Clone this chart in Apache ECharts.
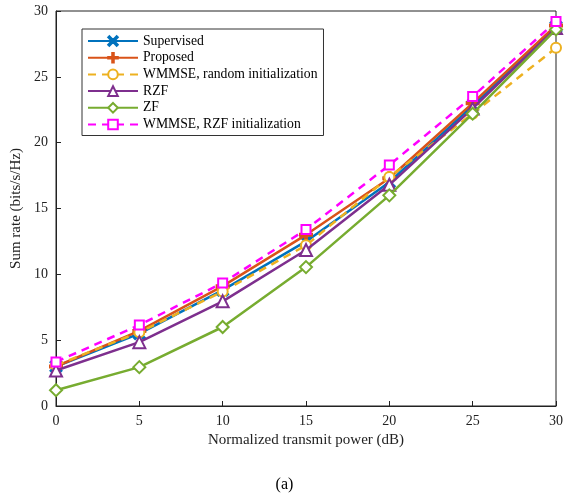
<!DOCTYPE html>
<html><head><meta charset="utf-8">
<script src="https://cdn.jsdelivr.net/npm/echarts@6/dist/echarts.min.js"></script>
<style>html,body{margin:0;padding:0;background:#fff}#c{width:569px;height:499px}</style>
</head><body><div id="c"></div>
<script>
const xValues = [0, 5, 10, 15, 20, 25, 30];
const seriesNames = ['Supervised', 'Proposed', 'WMMSE, random initialization', 'RZF', 'ZF', 'WMMSE, RZF initialization'];
const supervised = [3.0, 5.5, 8.8, 12.5, 17.0, 22.8, 28.8];
const proposed = [3.0, 5.7, 9.1, 13.0, 17.3, 23.0, 28.9];
const wmmseRandom = [3.1, 5.6, 8.7, 12.2, 17.4, 22.2, 27.2];
const rzf = [2.7, 4.85, 7.95, 11.85, 16.8, 22.6, 28.7];
const zf = [1.2, 2.95, 6.0, 10.55, 16.0, 22.2, 28.6];
const wmmseRzf = [3.35, 6.15, 9.35, 13.4, 18.3, 23.5, 29.2];
const yTicks = [0, 5, 10, 15, 20, 25, 30];

const allData = [supervised, proposed, wmmseRandom, rzf, zf, wmmseRzf];
const colors = ['#0072BD', '#D95319', '#EDB120', '#7E2F8E', '#77AC30', '#FF00FF'];
const XSYM = 'path://M0,1.2L1.2,0L5,3.8L8.8,0L10,1.2L6.2,5L10,8.8L8.8,10L5,6.2L1.2,10L0,8.8L3.8,5Z';
const PLUS = 'path://M4.2,0H5.8V4.2H10V5.8H5.8V10H4.2V5.8H0V4.2H4.2Z';
const symbols = [XSYM, PLUS, 'emptyCircle', 'emptyTriangle', 'emptyDiamond', 'emptyRect'];
const symSizes = [11, 12, 10, 12, 12, 9];
const dashed = [false, false, true, false, false, true];
const font = 'Liberation Serif';

const series = allData.map((arr, i) => ({
  name: seriesNames[i],
  type: 'line',
  data: xValues.map((x, j) => [x, arr[j]]),
  symbol: symbols[i],
  symbolSize: symSizes[i],
  showAllSymbol: true,
  color: colors[i],
  lineStyle: { width: 2.5, color: colors[i], type: dashed[i] ? [8, 6] : 'solid' },
  itemStyle: { color: colors[i], borderColor: colors[i], borderWidth: 2 },
  z: 2 + i,
  animation: false
}));

const chart = echarts.init(document.getElementById('c'));
chart.setOption({
  backgroundColor: '#fff',
  animation: false,
  textStyle: { fontFamily: font },
  grid: { left: 56, right: 13, top: 11, bottom: 93, show: true, borderColor: '#222', borderWidth: 1 },
  title: { text: '(a)', left: 'center', top: 472, textStyle: { fontFamily: font, fontSize: 16, fontWeight: 'normal', color: '#000' } },
  legend: {
    orient: 'vertical', left: 82, top: 29,
    data: seriesNames,
    backgroundColor: '#fff', borderColor: '#333', borderWidth: 1,
    padding: [5, 6, 4, 5], itemGap: 2.7, itemWidth: 50, itemHeight: 12,
    textStyle: { fontFamily: font, fontSize: 13.7, color: '#000' }
  },
  xAxis: {
    type: 'value', min: 0, max: 30, interval: 5,
    name: 'Normalized transmit power (dB)', nameLocation: 'middle', nameGap: 27,
    nameTextStyle: { fontFamily: font, fontSize: 15, color: '#222' },
    axisLine: { lineStyle: { color: '#222' } },
    axisTick: { inside: true, length: 5, lineStyle: { color: '#222' } },
    axisLabel: { fontFamily: font, fontSize: 14, color: '#222', margin: 8 },
    splitLine: { show: false }
  },
  yAxis: {
    type: 'value', min: 0, max: 30, interval: 5,
    name: 'Sum rate (bits/s/Hz)', nameLocation: 'middle', nameGap: 29,
    nameTextStyle: { fontFamily: font, fontSize: 15, color: '#222' },
    axisLine: { show: true, lineStyle: { color: '#222' } },
    axisTick: { show: true, inside: true, length: 5, lineStyle: { color: '#222' } },
    axisLabel: { fontFamily: font, fontSize: 14, color: '#222', margin: 8, formatter: v => yTicks.includes(v) ? String(v) : '' },
    splitLine: { show: false }
  },
  series: series
});
</script></body></html>
